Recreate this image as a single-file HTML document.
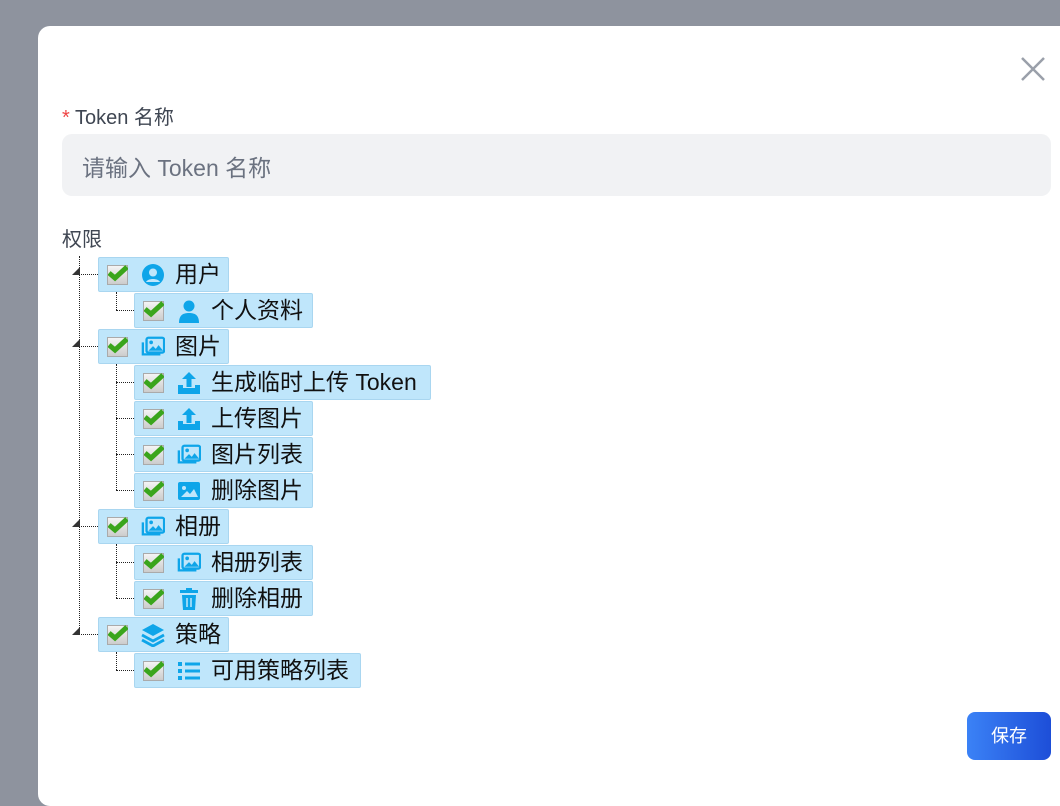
<!DOCTYPE html>
<html><head><meta charset="utf-8">
<style>
*{margin:0;padding:0;box-sizing:border-box}
body{width:1060px;height:778px;overflow:hidden;background:#8e939e;font-family:"Liberation Sans","Noto Sans CJK SC",sans-serif;position:relative}
.dlg{position:absolute;left:38px;top:26px;width:1040px;height:780px;background:#fff;border-radius:12px}
.abs{position:absolute}
.lbl{font-size:20px;color:#3f4652}
.inp{position:absolute;left:62px;top:134px;width:989px;height:62px;background:#f1f2f4;border-radius:10px;font-size:23px;color:#6b7280;padding:15px 0 0 20px}
.node{position:absolute;height:35px;background:#bfe6fb;border:1px solid #a9d6f0;border-radius:2px;font-size:23px;color:#111;white-space:nowrap}
.node .cb{position:absolute;left:8px;top:7px;width:21px;height:20px;background:linear-gradient(#f4f4f4,#ccc);border:1px solid #aaa}
.node .cb svg{position:absolute;left:0;top:-1px}
.node .ic{position:absolute;left:42px;top:5px;width:24px;height:24px}
.node .t{position:absolute;left:76px;top:1px;line-height:30px}
.vl{position:absolute;border-left:1px dotted #222;width:0}
.hl{position:absolute;border-top:1px dotted #222;height:0}
.tri{position:absolute;width:0;height:0;border-left:8px solid transparent;border-bottom:8px solid #333}
.btn{position:absolute;left:967px;top:712px;width:84px;height:48px;border-radius:8px;background:linear-gradient(90deg,#3b82f6,#1d4ed8);color:#fff;font-size:18px;text-align:center;line-height:48px}
</style></head><body>
<div class="dlg"></div>
<svg class="abs" style="left:1020px;top:56px" width="26" height="26"><path d="M2 2L24 24M24 2L2 24" stroke="#9aa0aa" stroke-width="2.5"/></svg>
<div class="abs lbl" style="left:62px;top:101px"><span style="color:#ef4444">*</span> Token 名称</div>
<div class="inp">请输入 Token 名称</div>
<div class="abs lbl" style="left:62px;top:223px">权限</div>

<div class="vl" style="left:79px;top:256px;height:378px"></div>
<div class="hl" style="left:79px;top:274px;width:19px"></div>
<div class="hl" style="left:79px;top:346px;width:19px"></div>
<div class="hl" style="left:79px;top:526px;width:19px"></div>
<div class="hl" style="left:79px;top:634px;width:19px"></div>
<div class="tri" style="left:72px;top:267px"></div>
<div class="tri" style="left:72px;top:339px"></div>
<div class="tri" style="left:72px;top:519px"></div>
<div class="tri" style="left:72px;top:627px"></div>

<div class="vl" style="left:116px;top:292px;height:18px"></div>
<div class="hl" style="left:116px;top:310px;width:18px"></div>
<div class="vl" style="left:116px;top:364px;height:126px"></div>
<div class="hl" style="left:116px;top:382px;width:18px"></div>
<div class="hl" style="left:116px;top:418px;width:18px"></div>
<div class="hl" style="left:116px;top:454px;width:18px"></div>
<div class="hl" style="left:116px;top:490px;width:18px"></div>
<div class="vl" style="left:116px;top:544px;height:54px"></div>
<div class="hl" style="left:116px;top:562px;width:18px"></div>
<div class="hl" style="left:116px;top:598px;width:18px"></div>
<div class="vl" style="left:116px;top:652px;height:18px"></div>
<div class="hl" style="left:116px;top:670px;width:18px"></div>

<svg width="0" height="0" style="position:absolute">
<defs>
<symbol id="ck" viewBox="0 0 20 18"><path d="M1 8L7 13L19 2" stroke="#3aa51c" stroke-width="5" fill="none"/></symbol>
<symbol id="uc" viewBox="0 0 24 24"><circle cx="12" cy="12" r="11" fill="#0ea5e9"/><circle cx="12" cy="9.5" r="4" fill="#bfe6fb"/><path d="M5 19c2-4 12-4 14 0" fill="#bfe6fb"/></symbol>
<symbol id="us" viewBox="0 0 24 24"><circle cx="12" cy="7" r="5.5" fill="#0ea5e9"/><path d="M2 24c0-8 4-10 10-10s10 2 10 10z" fill="#0ea5e9"/></symbol>
<symbol id="ims" viewBox="0 0 26 24"><rect x="6" y="2" width="19" height="16" rx="2" fill="none" stroke="#0ea5e9" stroke-width="2.5"/><path d="M2 7v13h19" fill="none" stroke="#0ea5e9" stroke-width="2.5"/><circle cx="11" cy="7" r="2" fill="#0ea5e9"/><path d="M8 16l5-5 3 3 3-4 5 6z" fill="#0ea5e9"/></symbol>
<symbol id="im" viewBox="0 0 24 24"><rect x="1" y="3" width="22" height="18" rx="2" fill="#0ea5e9"/><circle cx="7" cy="9" r="2" fill="#bfe6fb"/><path d="M4 18l6-6 3 3 4-5 4 8z" fill="#bfe6fb"/></symbol>
<symbol id="up" viewBox="0 0 24 24"><path d="M12 1l-7 7h4.5v8h5v-8H19z" fill="#0ea5e9"/><path d="M1 14h5v3h12v-3h5v9H1z" fill="#0ea5e9"/></symbol>
<symbol id="tr" viewBox="0 0 24 24"><rect x="3" y="3" width="18" height="3" fill="#0ea5e9"/><rect x="9" y="1" width="6" height="3" fill="#0ea5e9"/><path d="M5 8h14l-1 15H6z" fill="#0ea5e9"/><path d="M10 11v9M14 11v9" stroke="#bfe6fb" stroke-width="1.5"/></symbol>
<symbol id="ly" viewBox="0 0 24 24"><path d="M12 1L1 7l11 6 11-6z" fill="#0ea5e9"/><path d="M1 12l11 6 11-6M1 17l11 6 11-6" fill="none" stroke="#0ea5e9" stroke-width="2.8"/></symbol>
<symbol id="li" viewBox="0 0 24 24"><rect x="1" y="3" width="4" height="4" fill="#0ea5e9"/><rect x="1" y="10" width="4" height="4" fill="#0ea5e9"/><rect x="1" y="17" width="4" height="4" fill="#0ea5e9"/><rect x="8" y="3.5" width="15" height="3" fill="#0ea5e9"/><rect x="8" y="10.5" width="15" height="3" fill="#0ea5e9"/><rect x="8" y="17.5" width="15" height="3" fill="#0ea5e9"/></symbol>
</defs></svg>

<div class="node" style="left:98px;top:257px;width:131px"><div class="cb"><svg width="20" height="18"><use href="#ck"/></svg></div><svg class="ic"><use href="#uc"/></svg><span class="t">用户</span></div>
<div class="node" style="left:134px;top:293px;width:179px"><div class="cb"><svg width="20" height="18"><use href="#ck"/></svg></div><svg class="ic"><use href="#us"/></svg><span class="t">个人资料</span></div>
<div class="node" style="left:98px;top:329px;width:131px"><div class="cb"><svg width="20" height="18"><use href="#ck"/></svg></div><svg class="ic"><use href="#ims"/></svg><span class="t">图片</span></div>
<div class="node" style="left:134px;top:365px;width:297px"><div class="cb"><svg width="20" height="18"><use href="#ck"/></svg></div><svg class="ic"><use href="#up"/></svg><span class="t">生成临时上传 Token</span></div>
<div class="node" style="left:134px;top:401px;width:179px"><div class="cb"><svg width="20" height="18"><use href="#ck"/></svg></div><svg class="ic"><use href="#up"/></svg><span class="t">上传图片</span></div>
<div class="node" style="left:134px;top:437px;width:179px"><div class="cb"><svg width="20" height="18"><use href="#ck"/></svg></div><svg class="ic"><use href="#ims"/></svg><span class="t">图片列表</span></div>
<div class="node" style="left:134px;top:473px;width:179px"><div class="cb"><svg width="20" height="18"><use href="#ck"/></svg></div><svg class="ic"><use href="#im"/></svg><span class="t">删除图片</span></div>
<div class="node" style="left:98px;top:509px;width:131px"><div class="cb"><svg width="20" height="18"><use href="#ck"/></svg></div><svg class="ic"><use href="#ims"/></svg><span class="t">相册</span></div>
<div class="node" style="left:134px;top:545px;width:179px"><div class="cb"><svg width="20" height="18"><use href="#ck"/></svg></div><svg class="ic"><use href="#ims"/></svg><span class="t">相册列表</span></div>
<div class="node" style="left:134px;top:581px;width:179px"><div class="cb"><svg width="20" height="18"><use href="#ck"/></svg></div><svg class="ic"><use href="#tr"/></svg><span class="t">删除相册</span></div>
<div class="node" style="left:98px;top:617px;width:131px"><div class="cb"><svg width="20" height="18"><use href="#ck"/></svg></div><svg class="ic"><use href="#ly"/></svg><span class="t">策略</span></div>
<div class="node" style="left:134px;top:653px;width:227px"><div class="cb"><svg width="20" height="18"><use href="#ck"/></svg></div><svg class="ic"><use href="#li"/></svg><span class="t">可用策略列表</span></div>

<div class="btn">保存</div>
</body></html>
